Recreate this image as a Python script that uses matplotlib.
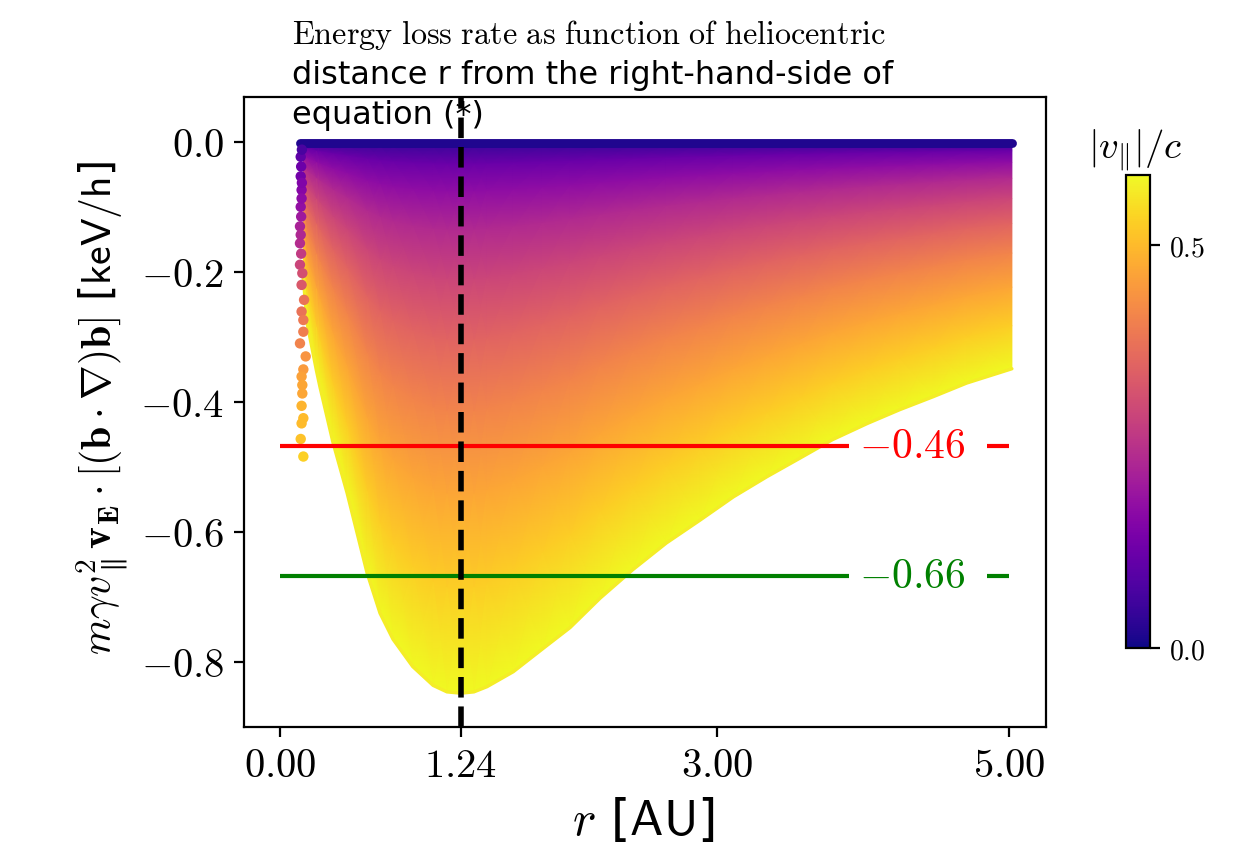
import numpy as np
import matplotlib
matplotlib.use("Agg")
import matplotlib.pyplot as plt
from matplotlib.cm import ScalarMappable
from matplotlib.colors import Normalize

plt.rcParams["mathtext.fontset"] = "cm"
plt.rcParams["font.family"] = "DejaVu Sans"

W, H, DPI = 1257, 855, 200

# lower edge of the cloud
env_r = [0.16, 0.185, 0.25, 0.274, 0.364, 0.46, 0.597, 0.686, 0.775, 0.91, 1.05, 1.145, 1.24,
         1.33, 1.42, 1.60, 1.80, 1.99, 2.195, 2.42, 2.65, 2.88, 3.11, 3.34, 3.57, 3.79, 4.03, 4.25,
         4.48, 4.71, 5.02]
env_y = [-0.21, -0.278, -0.352, -0.377, -0.463, -0.54, -0.663, -0.725, -0.765, -0.807, -0.836,
         -0.846, -0.848, -0.846, -0.838, -0.815, -0.78, -0.747, -0.702, -0.658, -0.617, -0.582, -0.546,
         -0.515, -0.486, -0.458, -0.433, -0.412, -0.392, -0.371, -0.349]
top_r = [0.14, 5.02]

# share of the depth at r, and the speed seen there
depth_frac = [0.0, 0.01, 0.04, 0.09, 0.16, 0.25, 0.36, 0.49, 0.64, 0.81, 1.0]
speed = [0.0, 0.059, 0.117, 0.176, 0.235, 0.293, 0.352, 0.411, 0.47, 0.528, 0.587]

# stray points left of the main cloud
stray_r = [0.142, 0.142, 0.148, 0.142, 0.137, 0.137, 0.137, 0.153, 0.148, 0.165, 0.148, 0.16,
           0.16, 0.137, 0.176, 0.16, 0.148, 0.153, 0.153, 0.148, 0.16, 0.148, 0.142, 0.16,
           0.15, 0.145, 0.15, 0.148, 0.145, 0.142, 0.145]
stray_y = [-0.023, -0.053, -0.074, -0.10, -0.13, -0.156, -0.189, -0.202, -0.22, -0.243, -0.261, -0.274,
           -0.292, -0.31, -0.33, -0.35, -0.361, -0.374, -0.387, -0.406, -0.425, -0.433, -0.457, -0.484,
           -0.012, -0.038, -0.063, -0.087, -0.115, -0.143, -0.172]
stray_v = [0.10, 0.13, 0.16, 0.18, 0.22, 0.24, 0.29, 0.31, 0.33, 0.38, 0.38, 0.39,
           0.40, 0.41, 0.44, 0.45, 0.46, 0.47, 0.47, 0.49, 0.50, 0.50, 0.51, 0.53,
           0.07, 0.12, 0.15, 0.17, 0.20, 0.23, 0.27]

level_y = [-0.468, -0.668]
level_colors = ["red", "green"]
level_labels = ["-0.46", "-0.66"]
line_r = 1.24

xticks = [0.0, 1.24, 3.0, 5.0]
yticks = [0.0, -0.2, -0.4, -0.6, -0.8]
cbar_ticks = [0.0, 0.5]
vmax = 0.587

norm = Normalize(0, vmax)
cmap = plt.get_cmap("plasma")


def box(left, top, right, bottom):
    return [left / W, 1 - bottom / H, (right - left) / W, (bottom - top) / H]


fig = plt.figure(figsize=(W / DPI, H / DPI), dpi=DPI, facecolor="white")
ax = fig.add_axes(box(244, 97, 1046, 727))

# the cloud
R, D = np.meshgrid(env_r, depth_frac)
Y = D * np.array(env_y)
C = np.repeat(np.array(speed)[:, None], len(env_r), axis=1)
ax.pcolormesh(R, Y, C, cmap=cmap, norm=norm, shading="gouraud", zorder=2)
ax.plot(env_r, env_y, color=cmap(0.97), lw=1.2, solid_capstyle="round", zorder=2)
ax.plot(top_r, [-0.002, -0.002], color=cmap(0.03), lw=3.2, solid_capstyle="round", zorder=2)
ax.scatter(stray_r, stray_y, c=stray_v, cmap=cmap, norm=norm, s=14, linewidths=0, zorder=2)

# levels, with a gap where the label sits
for yv, col, lab in zip(level_y, level_colors, level_labels):
    ax.plot([0, 3.90], [yv, yv], color=col, lw=1.5, solid_capstyle="butt", zorder=3)
    ax.plot([4.85, 5.0], [yv, yv], color=col, lw=1.5, solid_capstyle="butt", zorder=3)
    ax.text(4.34, yv, f"${lab}$", color=col, fontsize=15, ha="center", va="center", zorder=4)

ax.axvline(line_r, color="black", lw=2, ls="--", zorder=5)

ax.set_xlim(-0.247, 5.254)
ax.set_ylim(-0.9, 0.069)
ax.set_xticks(xticks)
ax.set_xticklabels([f"${v:.2f}$" for v in xticks], fontsize=14.6)
ax.set_yticks(yticks)
ax.set_yticklabels([f"${v:.1f}$" for v in yticks], fontsize=14.6)

fig.text(643 / W, 1 - 820 / H, r"$r$ [$\mathsf{AU}$]", fontsize=18, ha="center", va="center")
fig.text(103 / W, 1 - 408 / H,
         r"$m\gamma v_{\parallel}^2\mathbf{v_E}\cdot[(\mathbf{b}\cdot\nabla)\mathbf{b}]$ [$\mathsf{keV/h}$]",
         fontsize=15, rotation=90, ha="center", va="center")

fig.text(292 / W, 1 - 44 / H,
         r"$\mathrm{Energy\ loss\ rate\ as\ function\ of\ heliocentric}$",
         fontsize=11.6, ha="left", va="baseline")
fig.text(292 / W, 1 - 84 / H, "distance r from the right-hand-side of", fontsize=11.5, ha="left", va="baseline", zorder=6)
fig.text(292 / W, 1 - 124 / H, "equation (*)", fontsize=11.5, ha="left", va="baseline", zorder=6)

# colorbar
cax = fig.add_axes(box(1126, 175, 1150, 648))
cb = fig.colorbar(ScalarMappable(norm=norm, cmap=cmap), cax=cax)
cb.set_ticks(cbar_ticks)
cb.set_ticklabels([f"${v:.1f}$" for v in cbar_ticks], fontsize=10, va="center_baseline")
fig.text(1135 / W, 1 - 150 / H, r"$|v_{\|}|/c$", fontsize=14, ha="center", va="center")

fig.savefig("out.png", dpi=DPI)
